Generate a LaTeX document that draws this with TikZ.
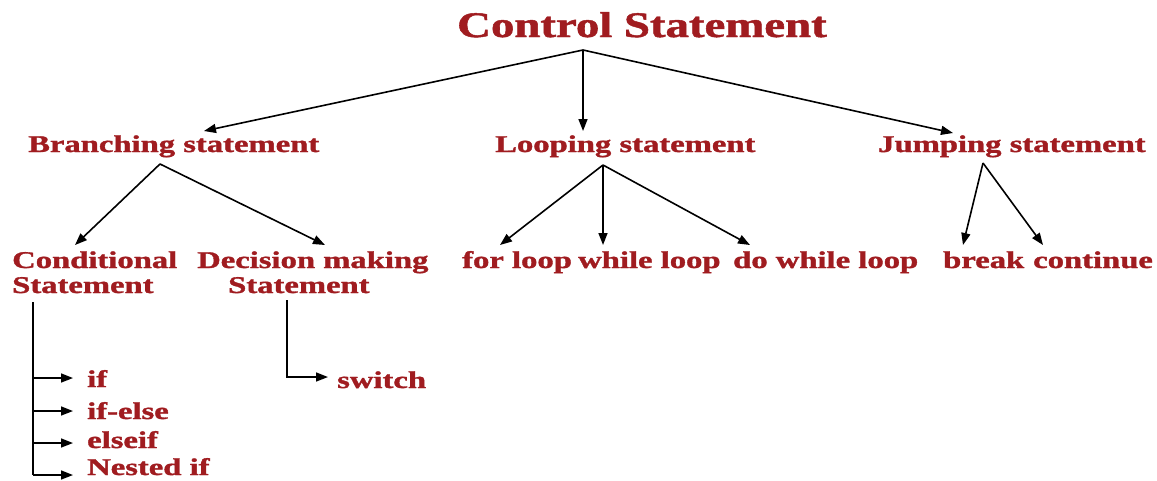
\documentclass[tikz,border=0pt]{standalone}
\usepackage{fontspec}
\setmainfont{Liberation Serif}[BoldFeatures={FakeBold=1.2}]
\usepackage{graphicx}
\usetikzlibrary{arrows.meta}
\definecolor{txtred}{RGB}{160,28,32}
\newcommand{\wide}[2][1.36]{\scalebox{#1}[1]{#2}}
\begin{document}
\begin{tikzpicture}[x=1pt,y=-1pt,
  lbl/.style={anchor=base west, inner sep=0pt, text=txtred, font=\bfseries\fontsize{24}{26}\selectfont},
  ttl/.style={lbl, font=\bfseries\fontsize{36}{40}\selectfont},
  arr/.style={-{Triangle[length=12pt,width=9pt]}, line width=1.6pt, black},
  ln/.style={line width=1.6pt, black}]
\useasboundingbox[fill=white] (0,0) rectangle (1157,480);

% text nodes
\node[ttl] (cs) at (457,37) {\wide[1.30]{Control Statement}};
\node[lbl] (br) at (28,152) {\wide{Branching statement}};
\node[lbl] (lp) at (495,152) {\wide{Looping statement}};
\node[lbl] (jp) at (878,152) {\wide{Jumping statement}};
\node[lbl] (cond) at (12,268) {\wide{Conditional}};
\node[lbl] (cond2) at (12,293) {\wide{Statement}};
\node[lbl] (dec) at (197,268) {\wide{Decision making}};
\node[lbl] (dec2) at (228,293) {\wide{Statement}};
\node[lbl] (for) at (462,268) {\wide{for loop}};
\node[lbl] (while) at (578,268) {\wide{while loop}};
\node[lbl] (dowhile) at (733,268) {\wide{do while loop}};
\node[lbl] (brk) at (943,268) {\wide{break}};
\node[lbl] (cont) at (1033,268) {\wide{continue}};
\node[lbl] (if) at (87,387) {\wide{if}};
\node[lbl] (ifelse) at (87,419) {\wide{if-else}};
\node[lbl] (elseif) at (87,448) {\wide{elseif}};
\node[lbl] (nif) at (87,475) {\wide{Nested if}};
\node[lbl] (sw) at (337,388) {\wide{switch}};

% junction and tip coordinates
\coordinate (csj) at (583,50);
\coordinate (brT) at (204,131);
\coordinate (lpT) at (583,131);
\coordinate (jpT) at (953,133);
\coordinate (brj) at (160,164);
\coordinate (condT) at (75,245);
\coordinate (decT) at (325,245);
\coordinate (lpj) at (603,165);
\coordinate (forT) at (500,245);
\coordinate (whileT) at (603,245);
\coordinate (dowhileT) at (750,245);
\coordinate (jpj) at (983,163);
\coordinate (brkT) at (963,245);
\coordinate (contT) at (1043,245);
\coordinate (condj) at (33,302);
\coordinate (condb) at (33,475);
\coordinate (decj) at (287,300);

% level 1
\draw[arr] (csj) -- (brT);
\draw[arr] (csj) -- (lpT);
\draw[arr] (csj) -- (jpT);
% level 2
\draw[arr] (brj) -- (condT);
\draw[arr] (brj) -- (decT);
\draw[arr] (lpj) -- (forT);
\draw[arr] (lpj) -- (whileT);
\draw[arr] (lpj) -- (dowhileT);
\draw[arr] (jpj) -- (brkT);
\draw[arr] (jpj) -- (contT);
% conditional list
\draw[ln] (condj) -- (condb);
\draw[arr] (condj |- 0,378) -- ([xshift=-14pt]if.base west |- 0,378);
\draw[arr] (condj |- 0,411) -- ([xshift=-14pt]ifelse.base west |- 0,411);
\draw[arr] (condj |- 0,443) -- ([xshift=-14pt]elseif.base west |- 0,443);
\draw[arr] (condb) -- ([xshift=-14pt]nif.base west |- condb);
% decision
\draw[arr] (decj) |- ([xshift=-9pt]sw.base west |- 0,377);
\end{tikzpicture}
\end{document}
